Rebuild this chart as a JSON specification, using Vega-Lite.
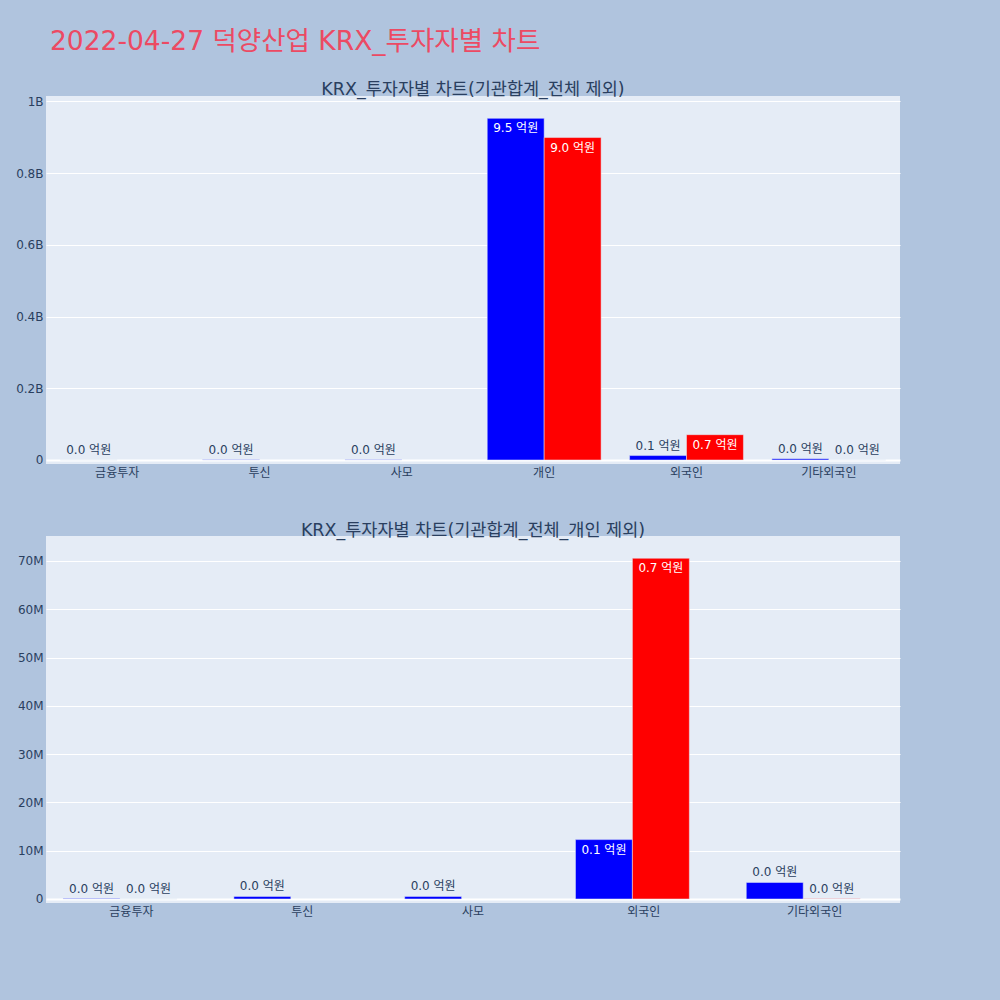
{
  "$schema": "https://vega.github.io/schema/vega-lite/v6.json",
  "padding": {"left": 6, "top": 29, "right": 100, "bottom": 92},
  "background": "#B0C4DE",
  "title": {
    "text": "2022-04-27 덕양산업 KRX_투자자별 차트",
    "anchor": "start",
    "frame": "bounds",
    "fontSize": 26.5,
    "fontWeight": "normal",
    "color": "#EC4A63",
    "dx": 44,
    "offset": 25
  },
  "datasets": {
    "top": [
      {"category": "금융투자", "side": "매도", "value": 300000, "label": "0.0 억원"},
      {"category": "투신", "side": "매도", "value": 540000, "label": "0.0 억원"},
      {"category": "사모", "side": "매도", "value": 540000, "label": "0.0 억원"},
      {"category": "개인", "side": "매도", "value": 952500000, "label": "9.5 억원"},
      {"category": "개인", "side": "매수", "value": 899000000, "label": "9.0 억원"},
      {"category": "외국인", "side": "매도", "value": 12300000, "label": "0.1 억원"},
      {"category": "외국인", "side": "매수", "value": 70560000, "label": "0.7 억원"},
      {"category": "기타외국인", "side": "매도", "value": 3430000, "label": "0.0 억원"},
      {"category": "기타외국인", "side": "매수", "value": 50000, "label": "0.0 억원"}
    ],
    "bottom": [
      {"category": "금융투자", "side": "매도", "value": 100000, "label": "0.0 억원"},
      {"category": "금융투자", "side": "매수", "value": 20000, "label": "0.0 억원"},
      {"category": "투신", "side": "매도", "value": 540000, "label": "0.0 억원"},
      {"category": "사모", "side": "매도", "value": 540000, "label": "0.0 억원"},
      {"category": "외국인", "side": "매도", "value": 12300000, "label": "0.1 억원"},
      {"category": "외국인", "side": "매수", "value": 70560000, "label": "0.7 억원"},
      {"category": "기타외국인", "side": "매도", "value": 3430000, "label": "0.0 억원"},
      {"category": "기타외국인", "side": "매수", "value": 50000, "label": "0.0 억원"}
    ]
  },
  "vconcat": [
    {
      "width": 854,
      "height": 368,
      "data": {"name": "top"},
      "title": {"text": "KRX_투자자별 차트(기관합계_전체 제외)", "offset": -3},
      "encoding": {
        "x": {
          "field": "category", "type": "nominal", "title": null,
          "sort": ["금융투자", "투신", "사모", "개인", "외국인", "기타외국인"],
          "scale": {"paddingInner": 0.2, "paddingOuter": 0.1}
        },
        "xOffset": {"field": "side", "scale": {"domain": ["매도", "매수"]}},
        "y": {
          "field": "value", "type": "quantitative", "title": null,
          "scale": {"domain": [-11200000, 1014800000], "nice": false, "zero": false},
          "axis": {
            "values": [0, 200000000, 400000000, 600000000, 800000000, 1000000000],
            "labelExpr": "datum.value == 0 ? '0' : format(datum.value / 1e9, '~g') + 'B'"
          }
        }
      },
      "layer": [
        {
          "mark": {"type": "bar", "stroke": "#E5ECF6", "strokeWidth": 0.5},
          "encoding": {
            "color": {"field": "side", "scale": {"domain": ["매도", "매수"], "range": ["#0000FF", "#FF0000"]}, "legend": null}
          }
        },
        {
          "transform": [{"filter": "datum.value >= 50000000"}],
          "mark": {"type": "text", "baseline": "top", "dy": 5, "color": "white", "fontSize": 12},
          "encoding": {"text": {"field": "label"}}
        },
        {
          "transform": [{"filter": "datum.value < 50000000"}],
          "mark": {"type": "text", "baseline": "bottom", "dy": -3, "color": "#2a3f5f", "fontSize": 12},
          "encoding": {"text": {"field": "label"}}
        }
      ]
    },
    {
      "width": 854,
      "height": 367,
      "data": {"name": "bottom"},
      "title": {"text": "KRX_투자자별 차트(기관합계_전체_개인 제외)", "offset": -3},
      "encoding": {
        "x": {
          "field": "category", "type": "nominal", "title": null,
          "sort": ["금융투자", "투신", "사모", "외국인", "기타외국인"],
          "scale": {"paddingInner": 0.2, "paddingOuter": 0.1}
        },
        "xOffset": {"field": "side", "scale": {"domain": ["매도", "매수"]}},
        "y": {
          "field": "value", "type": "quantitative", "title": null,
          "scale": {"domain": [-830000, 75170000], "nice": false, "zero": false},
          "axis": {
            "values": [0, 10000000, 20000000, 30000000, 40000000, 50000000, 60000000, 70000000],
            "labelExpr": "datum.value == 0 ? '0' : format(datum.value / 1e6, '~g') + 'M'"
          }
        }
      },
      "layer": [
        {
          "mark": {"type": "bar", "stroke": "#E5ECF6", "strokeWidth": 0.5},
          "encoding": {
            "color": {"field": "side", "scale": {"domain": ["매도", "매수"], "range": ["#0000FF", "#FF0000"]}, "legend": null}
          }
        },
        {
          "transform": [{"filter": "datum.value >= 5000000"}],
          "mark": {"type": "text", "baseline": "top", "dy": 5, "color": "white", "fontSize": 12},
          "encoding": {"text": {"field": "label"}}
        },
        {
          "transform": [{"filter": "datum.value < 5000000"}],
          "mark": {"type": "text", "baseline": "bottom", "dy": -3, "color": "#2a3f5f", "fontSize": 12},
          "encoding": {"text": {"field": "label"}}
        }
      ]
    }
  ],
  "spacing": 43,
  "config": {
    "font": "DejaVu Sans, Noto Sans CJK KR",
    "view": {"fill": "#E5ECF6", "stroke": null},
    "title": {"fontSize": 17.5, "fontWeight": "normal", "color": "#2a3f5f"},
    "axisX": {
      "domain": false, "ticks": false, "tickSize": 0, "grid": false,
      "labelAngle": 0, "labelPadding": 3, "labelFontSize": 12, "labelColor": "#2a3f5f"
    },
    "axisY": {
      "domain": false, "ticks": false, "tickSize": 0, "labelPadding": 3,
      "minExtent": 40, "maxExtent": 40,
      "labelFontSize": 12, "labelColor": "#2a3f5f",
      "gridColor": "white",
      "gridWidth": {"condition": {"test": "datum.value === 0", "value": 2}, "value": 1}
    }
  }
}
